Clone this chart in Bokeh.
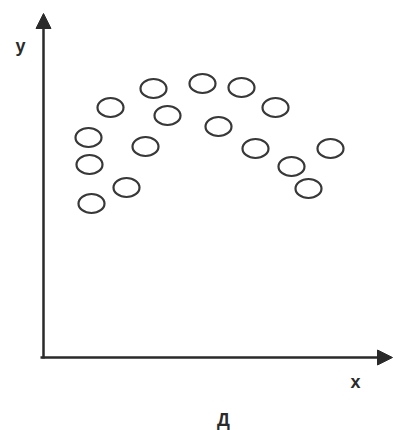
from bokeh.plotting import figure
from bokeh.models import Range1d, Arrow, NormalHead
from bokeh.core.properties import value
from bokeh.embed import file_html
from bokeh.resources import INLINE

# Scatter points (arbitrary units: horizontal / vertical offset from the origin)
x_vals = [45, 46, 48, 83, 67, 102, 110, 124, 159, 198, 232, 175, 212, 287, 248, 265]
y_vals = [220, 193, 154, 170, 250, 211, 269, 242, 274, 270, 250, 231, 209, 209, 191, 169]

# Axis extents
x_axis_end = 349
y_axis_end = 344

# Labels
label_texts = ["y", "x", "Д"]
label_x = [-23, 312, 180]
label_y = [312, -24, -62]

p = figure(width=393, height=430, output_backend="svg", toolbar_location=None,
           x_range=Range1d(-43, 350), y_range=Range1d(-73, 357),
           x_axis_location=None, y_axis_location=None,
           min_border=0, outline_line_color=None, background_fill_color="white",
           border_fill_color="white")
p.grid.visible = False

ink = "#2a2a2a"

p.add_layout(Arrow(x_start=-3, y_start=0, x_end=x_axis_end, y_end=0,
                   line_width=2.5, line_color=ink,
                   end=NormalHead(size=15, fill_color=ink, line_color=ink)))
p.add_layout(Arrow(x_start=0, y_start=-1, x_end=0, y_end=y_axis_end,
                   line_width=2.5, line_color=ink,
                   end=NormalHead(size=15, fill_color=ink, line_color=ink)))

p.ellipse(x=x_vals, y=y_vals, width=26, height=19, width_units="screen", height_units="screen",
          fill_color=None, line_color="#383838", line_width=2.2)

p.text(x=label_x, y=label_y, text=label_texts, text_font=value("Liberation Sans"),
       text_font_style="bold", text_font_size="18px", text_align="center",
       text_baseline="middle", text_color=ink)

open("out.html", "w").write(file_html(p, INLINE))
